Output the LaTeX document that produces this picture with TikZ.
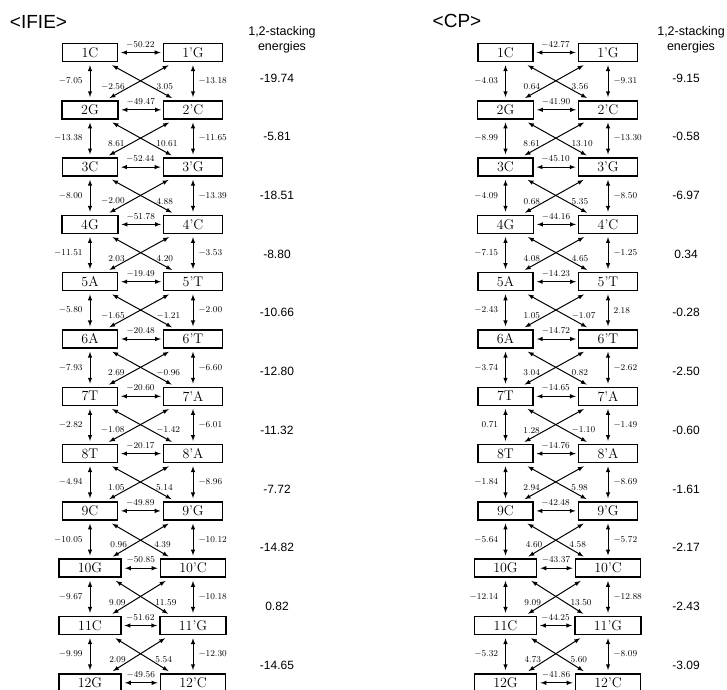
\documentclass[tikz,border=0pt]{standalone}
\usepackage{amsmath,amssymb}
\usepackage{fontspec}
\newfontfamily\arialfont{Liberation Sans}
\usepackage{tikz}

\tikzset{
  base/.style={draw, line width=1.5pt, inner xsep=19pt, inner ysep=0pt,
    minimum height=18pt, font=\fontsize{14}{14}\selectfont},
  link/.style={<->, >=latex, line width=1pt},
  pair/.style={link, shorten <=3pt, shorten >=2pt},
  rung/.style={link, shorten <=3pt, shorten >=3pt},
  num/.style={font=\fontsize{9.5}{9.5}\selectfont, inner sep=1pt},
  title/.style={font=\arialfont\fontsize{19}{19}\selectfont},
  head/.style={font=\arialfont\fontsize{12.5}{15}\selectfont, align=center},
  energy/.style={font=\arialfont\fontsize{12}{12}\selectfont},
}

\begin{document}
\begin{tikzpicture}[x=1pt,y=-1pt]
    \useasboundingbox (0,0) rectangle (727,689);

    % IFIE
    \node[title] (ifie) at (38.5,21.5) {<IFIE>};
    \node[head] (ihead) at (282,39.5) {1,2-stacking\\energies};
    \foreach \i/\a/\b in {1/1C/1'G,2/2G/2'C,3/3C/3'G,4/4G/4'C,5/5A/5'T,6/6A/6'T,
        7/7T/7'A,8/8T/8'A,9/9C/9'G,10/10G/10'C,11/11C/11'G,12/12G/12'C} {
        \node[base] (iL\i) at (90,{52.5+57.3*(\i-1)}) {\a};
        \node[base] (iR\i) at (193,{52.5+57.3*(\i-1)}) {\b};
    }
    \foreach \i/\e in {1/-50.22,2/-49.47,3/-52.44,4/-51.78,5/-19.49,6/-20.48,
        7/-20.60,8/-20.17,9/-49.89,10/-50.85,11/-51.62,12/-49.56}
        \draw[pair] (iL\i) -- (iR\i) node[num,midway,above=3pt] {$\e$};
    \foreach \i/\vl/\vr/\dl/\dr in {1/-7.05/-13.18/-2.56/3.05,2/-13.38/-11.65/8.61/10.61,
        3/-8.00/-13.39/-2.00/4.88,4/-11.51/-3.53/2.03/4.20,5/-5.80/-2.00/-1.65/-1.21,
        6/-7.93/-6.60/2.69/-0.96,7/-2.82/-6.01/-1.08/-1.42,8/-4.94/-8.96/1.05/5.14,
        9/-10.05/-10.12/0.96/4.39,10/-9.67/-10.18/9.09/11.59,11/-9.99/-12.30/2.09/5.54} {
        \pgfmathtruncatemacro\j{\i+1}
        \draw[rung] (iL\i) -- (iL\j) node[num,midway,left=6pt] {$\vl$};
        \draw[rung] (iR\i) -- (iR\j) node[num,midway,right=4pt] {$\vr$};
        \draw[link] ([xshift=6pt,yshift=-3pt]iR\i.south west) -- ([xshift=-9pt,yshift=2pt]iL\j.north east)
            node[num,pos=0.65,left=4pt] {$\dl$};
        \draw[link] ([xshift=-6pt,yshift=-3pt]iL\i.south east) -- ([xshift=9pt,yshift=2pt]iR\j.north west)
            node[num,pos=0.65,right=4pt] {$\dr$};
    }
    \foreach \v [count=\k] in {-19.74,-5.81,-18.51,-8.80,-10.66,-12.80,-11.32,-7.72,-14.82,0.82,-14.65}
        \node[energy] (iv\k) at (277,{78+58.7*(\k-1)}) {\v};

    % CP
    \node[title] (cp) at (457,21) {<CP>};
    \node[head] (chead) at (691,40) {1,2-stacking\\energies};
    \foreach \i/\a/\b in {1/1C/1'G,2/2G/2'C,3/3C/3'G,4/4G/4'C,5/5A/5'T,6/6A/6'T,
        7/7T/7'A,8/8T/8'A,9/9C/9'G,10/10G/10'C,11/11C/11'G,12/12G/12'C} {
        \node[base] (cL\i) at (505.5,{52.5+57.3*(\i-1)}) {\a};
        \node[base] (cR\i) at (608,{52.5+57.3*(\i-1)}) {\b};
    }
    \foreach \i/\e in {1/-42.77,2/-41.90,3/-45.10,4/-44.16,5/-14.23,6/-14.72,
        7/-14.65,8/-14.76,9/-42.48,10/-43.37,11/-44.25,12/-41.86}
        \draw[pair] (cL\i) -- (cR\i) node[num,midway,above=3pt] {$\e$};
    \foreach \i/\vl/\vr/\dl/\dr in {1/-4.03/-9.31/0.64/3.56,2/-8.99/-13.30/8.61/13.10,
        3/-4.09/-8.50/0.68/5.35,4/-7.15/-1.25/4.08/4.65,5/-2.43/2.18/1.05/-1.07,
        6/-3.74/-2.62/3.04/0.82,7/0.71/-1.49/1.28/-1.10,8/-1.84/-8.69/2.94/5.98,
        9/-5.64/-5.72/4.60/4.58,10/-12.14/-12.88/9.09/13.50,11/-5.32/-8.09/4.73/5.60} {
        \pgfmathtruncatemacro\j{\i+1}
        \draw[rung] (cL\i) -- (cL\j) node[num,midway,left=6pt] {$\vl$};
        \draw[rung] (cR\i) -- (cR\j) node[num,midway,right=4pt] {$\vr$};
        \draw[link] ([xshift=6pt,yshift=-3pt]cR\i.south west) -- ([xshift=-9pt,yshift=2pt]cL\j.north east)
            node[num,pos=0.65,left=4pt] {$\dl$};
        \draw[link] ([xshift=-6pt,yshift=-3pt]cL\i.south east) -- ([xshift=9pt,yshift=2pt]cR\j.north west)
            node[num,pos=0.65,right=4pt] {$\dr$};
    }
    \foreach \v [count=\k] in {-9.15,-0.58,-6.97,0.34,-0.28,-2.50,-0.60,-1.61,-2.17,-2.43,-3.09}
        \node[energy] (cv\k) at (686,{78+58.7*(\k-1)}) {\v};
\end{tikzpicture}
\end{document}
